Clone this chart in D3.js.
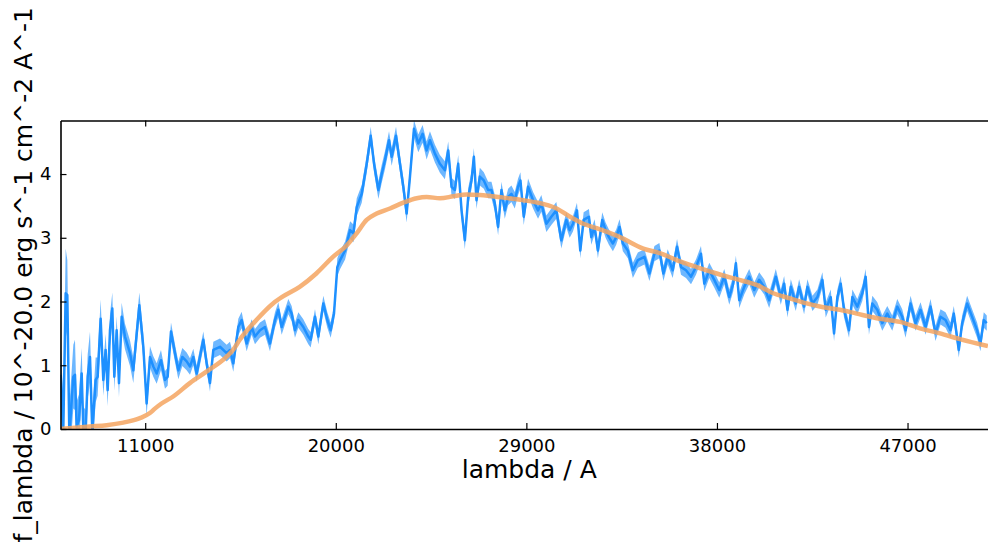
<!DOCTYPE html>
<html>
<head>
<meta charset="utf-8">
<script src="https://cdn.jsdelivr.net/npm/d3@7/dist/d3.min.js"></script>
<style>
  html, body { margin: 0; padding: 0; background: #fff; }
  svg { display: block; }
  text { font-family: "DejaVu Sans", sans-serif; fill: #000; }
</style>
</head>
<body>
<svg id="chart" width="988" height="549"></svg>
<script>
// ---- data ----
const xTicks = [11000, 20000, 29000, 38000, 47000];
const yTicks = [0, 1, 2, 3, 4];
const xLabel = "lambda / A";
const yLabel = "f_lambda / 10^-20.0 erg s^-1 cm^-2 A^-1";

// observed spectrum: [wavelength, flux, error]
const spectrum = [
  [7008,0.85,0.5],[7133,0.0,0.45],[7244,2.13,0.7],[7322,2.1,0.55],[7417,-0.1,0.45],
  [7606,0.82,0.5],[7684,0.85,0.55],[7763,0.04,0.4],[7873,0.14,0.4],[8000,0.87,0.4],
  [8078,0.0,0.35],[8188,-0.05,0.35],[8283,0.82,0.35],[8393,1.13,0.4],[8503,-0.05,0.35],
  [8660,0.77,0.35],[8755,0.82,0.3],[8896,1.73,0.3],[9022,0.77,0.25],[9132,1.24,0.25],
  [9227,0.61,0.25],[9337,1.55,0.25],[9447,1.89,0.25],[9542,0.82,0.22],[9652,1.55,0.22],
  [9762,0.72,0.22],[9888,1.76,0.22],[10045,1.45,0.2],[10282,1.19,0.2],[10439,0.92,0.2],
  [10722,1.94,0.2],[10911,1.29,0.2],[11068,0.4,0.2],[11226,1.13,0.17],[11383,0.98,0.16],
  [11541,0.87,0.16],[11745,1.08,0.16],[11934,0.77,0.14],[12060,0.82,0.14],[12218,1.53,0.14],
  [12406,1.19,0.14],[12564,0.92,0.14],[12753,1.13,0.14],[12957,1.06,0.14],
  [13115,0.98,0.13],[13272,1.13,0.13],[13430,0.87,0.13],[13745,1.4,0.13],[13902,1.03,0.13],
  [14059,0.72,0.13],[14217,1.24,0.13],[14532,1.29,0.13],[14846,1.19,0.13],[15004,1.24,0.13],
  [15161,1.03,0.13],[15397,1.6,0.13],[15555,1.71,0.13],[15791,1.34,0.12],[16027,1.6,0.12],
  [16184,1.45,0.12],[16420,1.55,0.12],[16656,1.6,0.12],[16892,1.34,0.12],[17129,1.71,0.12],
  [17286,1.87,0.12],[17444,1.6,0.12],[17759,1.92,0.12],[17916,1.81,0.12],[18073,1.55,0.12],
  [18231,1.71,0.12],[18467,1.6,0.12],[18703,1.45,0.12],[18813,1.4,0.12],[19018,1.76,0.12],
  [19175,1.45,0.12],[19411,1.97,0.12],[19600,1.71,0.12],[19758,1.55,0.12],[19915,1.81,0.12],
  [20072,2.54,0.14],[20204,2.65,0.14],[20440,2.8,0.14],[20676,3.12,0.14],[20833,3.07,0.14],
  [20990,3.48,0.14],[21225,3.69,0.14],[21461,4.16,0.14],[21650,4.6,0.14],[21807,4.16,0.14],
  [22011,3.75,0.14],[22168,4.0,0.14],[22325,4.22,0.14],[22514,4.53,0.14],[22639,4.27,0.14],
  [22844,4.6,0.14],[23032,4.16,0.14],[23189,3.8,0.14],[23346,3.38,0.14],[23503,3.96,0.14],
  [23692,4.71,0.14],[23896,4.48,0.14],[24100,4.63,0.14],[24289,4.37,0.14],[24446,4.53,0.14],
  [24682,4.32,0.14],[24917,4.16,0.14],[25153,4.06,0.14],[25310,4.37,0.14],[25467,3.8,0.14],
  [25624,3.75,0.14],[25781,4.16,0.14],[25938,3.43,0.14],[26095,2.96,0.14],[26253,3.64,0.14],
  [26410,3.9,0.14],[26520,4.27,0.14],[26645,3.59,0.14],[26802,3.96,0.14],[26991,3.9,0.13],
  [27195,3.75,0.13],[27352,3.75,0.13],[27509,3.54,0.13],[27666,3.17,0.13],[27824,3.75,0.13],
  [27981,3.43,0.13],[28138,3.64,0.13],[28295,3.69,0.13],[28452,3.59,0.13],[28609,3.8,0.13],
  [28719,3.9,0.13],[28876,3.33,0.13],[29080,3.8,0.13],[29316,3.59,0.13],[29551,3.43,0.13],
  [29708,3.54,0.13],[29944,3.22,0.13],[30180,3.33,0.13],[30415,3.43,0.13],[30651,2.96,0.13],
  [30887,3.28,0.12],[31044,3.12,0.12],[31201,3.22,0.12],[31390,3.43,0.12],[31547,2.8,0.12],
  [31704,3.28,0.12],[31955,3.33,0.12],[32065,3.01,0.12],[32222,3.17,0.12],[32379,2.8,0.12],
  [32584,3.28,0.12],[32741,3.12,0.12],[32898,3.01,0.12],[33086,2.91,0.12],[33243,3.01,0.12],
  [33400,3.17,0.12],[33557,2.91,0.12],[33793,2.8,0.12],[34029,2.49,0.12],[34265,2.65,0.12],
  [34575,2.7,0.12],[34811,2.44,0.12],[35047,2.75,0.12],[35282,2.8,0.12],[35471,2.44,0.12],
  [35675,2.7,0.12],[35911,2.49,0.12],[36115,2.86,0.12],[36303,2.54,0.12],[36539,2.49,0.12],
  [36775,2.39,0.12],[37010,2.54,0.12],[37246,2.75,0.12],[37403,2.28,0.12],[37639,2.49,0.12],
  [37874,2.34,0.12],[38110,2.18,0.12],[38346,2.39,0.12],[38581,2.07,0.12],[38770,2.28,0.12],
  [38895,2.6,0.12],[39053,2.02,0.12],[39288,2.23,0.12],[39524,2.39,0.12],[39760,2.18,0.12],
  [39995,2.34,0.12],[40231,2.23,0.12],[40466,2.02,0.12],[40780,2.39,0.12],[41016,2.07,0.12],
  [41173,2.28,0.12],[41331,1.87,0.12],[41488,2.23,0.12],[41723,1.97,0.12],[41880,2.23,0.12],
  [42116,1.92,0.12],[42273,2.23,0.12],[42509,1.97,0.12],[42744,2.07,0.12],[42980,2.34,0.12],
  [43137,1.87,0.12],[43373,2.07,0.12],[43530,1.5,0.12],[43687,2.07,0.12],[43844,2.28,0.12],
  [44001,1.87,0.12],[44237,1.55,0.12],[44394,2.07,0.12],[44630,1.92,0.12],[44865,2.13,0.12],
  [45022,2.39,0.12],[45179,1.6,0.12],[45337,1.97,0.12],[45572,1.87,0.12],[45808,1.66,0.12],
  [46044,1.81,0.12],[46279,1.66,0.12],[46515,1.92,0.12],[46750,1.76,0.12],[46907,1.55,0.12],
  [47143,1.97,0.12],[47379,1.66,0.12],[47614,1.87,0.12],[47850,1.6,0.12],[48086,1.92,0.12],
  [48321,1.5,0.12],[48557,1.76,0.12],[48793,1.71,0.12],[49028,1.55,0.12],[49185,1.81,0.12],
  [49421,1.24,0.12],[49578,1.66,0.12],[49814,1.97,0.12],[50050,1.76,0.12],[50285,1.55,0.12],
  [50442,1.34,0.12],[50600,1.71,0.12],[50741,1.66,0.12]
];

// smooth model: [wavelength, flux]
const model = [
  [7000,0],[8390,0.04],[9177,0.06],[9963,0.1],[10750,0.17],[11221,0.25],[11457,0.32],
  [11771,0.4],[12321,0.51],[13107,0.72],[13893,0.9],[14836,1.13],[15150,1.24],[15465,1.4],
  [16251,1.71],[17037,1.97],[17509,2.08],[18295,2.23],[19081,2.44],[19867,2.7],[20513,2.88],
  [20985,3.07],[21457,3.28],[21930,3.38],[22559,3.46],[23189,3.55],[23818,3.62],[24291,3.64],
  [24920,3.62],[25550,3.65],[26179,3.68],[26809,3.67],[27911,3.63],[28855,3.59],[29800,3.53],
  [30429,3.46],[31059,3.33],[31688,3.22],[32318,3.15],[33420,3.01],[34522,2.83],[35309,2.76],
  [36096,2.65],[37040,2.54],[37985,2.44],[38929,2.35],[39873,2.26],[40660,2.13],[41447,2.05],
  [42234,1.97],[43021,1.91],[43808,1.87],[44595,1.81],[45696,1.73],[46641,1.68],[47585,1.58],
  [48530,1.5],[49474,1.41],[50796,1.3]
];

// ---- layout ----
const svg = d3.select("#chart");
const L = 60.5, R = 988, T = 120.5, B = 429;
const x = d3.scaleLinear().domain([7000, 50800]).range([L, R]);
const y = d3.scaleLinear().domain([0, 4.84]).range([B, T]);

svg.append("defs").append("clipPath").attr("id", "clip")
  .append("rect").attr("x", L).attr("y", T).attr("width", R - L).attr("height", B - T);

const g = svg.append("g").attr("clip-path", "url(#clip)");

// error band
g.append("path")
  .datum(spectrum)
  .attr("fill", "#1e90ff").attr("fill-opacity", 0.65)
  .attr("d", d3.area().x(d => x(d[0])).y0(d => y(d[1] - d[2])).y1(d => y(d[1] + d[2])));

// spectrum line
g.append("path")
  .datum(spectrum)
  .attr("fill", "none").attr("stroke", "#1e90ff").attr("stroke-width", 2.5)
  .attr("stroke-linejoin", "round")
  .attr("d", d3.line().x(d => x(d[0])).y(d => y(d[1])));

// model line
g.append("path")
  .datum(model)
  .attr("fill", "none").attr("stroke", "#f4a460").attr("stroke-width", 4.5)
  .attr("stroke-opacity", 0.85)
  .attr("d", d3.line().curve(d3.curveMonotoneX).x(d => x(d[0])).y(d => y(d[1])));

// axes (ticks inward)
const axB = svg.append("g").attr("transform", `translate(0,${B})`)
  .call(d3.axisBottom(x).tickValues(xTicks).tickFormat(d3.format("d")).tickSizeInner(-6).tickSizeOuter(0).tickPadding(10));
const axT = svg.append("g").attr("transform", `translate(0,${T})`)
  .call(d3.axisTop(x).tickValues(xTicks).tickFormat("").tickSizeInner(-6).tickSizeOuter(0));
const axL = svg.append("g").attr("transform", `translate(${L},0)`)
  .call(d3.axisLeft(y).tickValues(yTicks).tickFormat(d3.format("d")).tickSizeInner(-6).tickSizeOuter(0).tickPadding(9));

[axB, axT, axL].forEach(a => {
  a.select(".domain").attr("stroke", "#000").attr("stroke-width", 1.6);
  a.selectAll(".tick line").attr("stroke", "#000").attr("stroke-width", 1.2);
  a.selectAll(".tick text").style("font-family", "DejaVu Sans, sans-serif").style("font-size", "18px").attr("fill", "#000");
});

// axis titles
svg.append("text").attr("x", (L + R) / 2 + 5).attr("y", 478)
  .attr("text-anchor", "middle").style("font-size", "25px").text(xLabel);
svg.append("text").attr("transform", `translate(32,${(T + B) / 2}) rotate(-90)`)
  .attr("text-anchor", "middle").style("font-size", "25px").text(yLabel);
</script>
</body>
</html>
